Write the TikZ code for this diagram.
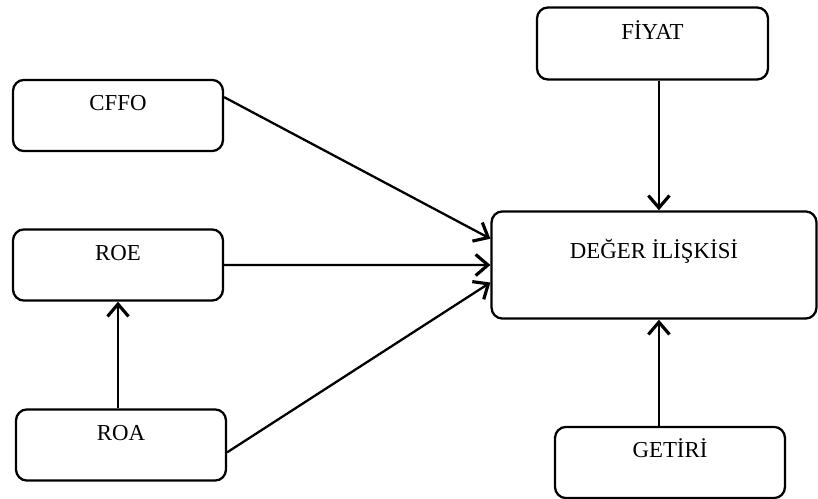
\documentclass[tikz,border=0pt]{standalone}
\usepackage{fontspec}
\setmainfont{Liberation Serif}
\usepackage{tikz}
\usetikzlibrary{positioning, arrows.meta, calc}

\tikzset{
	kutu/.style={draw, line width=1.3pt, rounded corners=0.22cm, inner sep=0pt,
		text height=17.5pt, text depth=23pt, minimum width=4.2cm,
		font=\fontsize{13}{15}\selectfont},
	ok/.style={-{Straight Barb[length=7pt, width=12pt, line width=1.8pt]}, line width=1.3pt}
}

\begin{document}
\begin{tikzpicture}[x=0.02cm, y=-0.02cm]
		
		\useasboundingbox (0,0) rectangle (818,499);
		
		% Left side
		\node[kutu] (cffo) at (118,115.5) {CFFO};
		\node[kutu] (roe) at ($(cffo) + (0,149.5)$) {ROE};
		\node[kutu] (roa) at ($(roe) + (3,180)$) {ROA};
		
		% Right side
		\node[kutu, minimum width=6.5cm, text height=27pt, text depth=34pt] (deger) at (654,265) {DEĞER İLİŞKİSİ};
		\node[kutu, minimum width=4.62cm, text height=18pt] (fiyat) at ($(deger) + (-1.5,-221.5)$) {FİYAT};
		\node[kutu, minimum width=4.6cm] (getiri) at ($(deger) + (16,197.5)$) {GETİRİ};
		
		% Connections
		\draw[ok] ($(cffo.north east)!0.25!(cffo.south east)$) -- ($(deger.north west)!0.26!(deger.south west)$);
		\draw[ok] (roe.east) -- (deger.west);
		\draw[ok] ($(roa.north east)!0.6!(roa.south east)$) -- ($(deger.north west)!0.66!(deger.south west)$);
		\draw[ok] (roa.north -| roe.south) -- (roe.south);
		
		\draw[ok] ([xshift=2.8pt]fiyat.south -| deger.north) -- ([xshift=2.8pt]deger.north);
		\draw[ok] ([xshift=2.8pt]getiri.north -| deger.south) -- ([xshift=2.8pt]deger.south);
	\end{tikzpicture}
\end{document}
